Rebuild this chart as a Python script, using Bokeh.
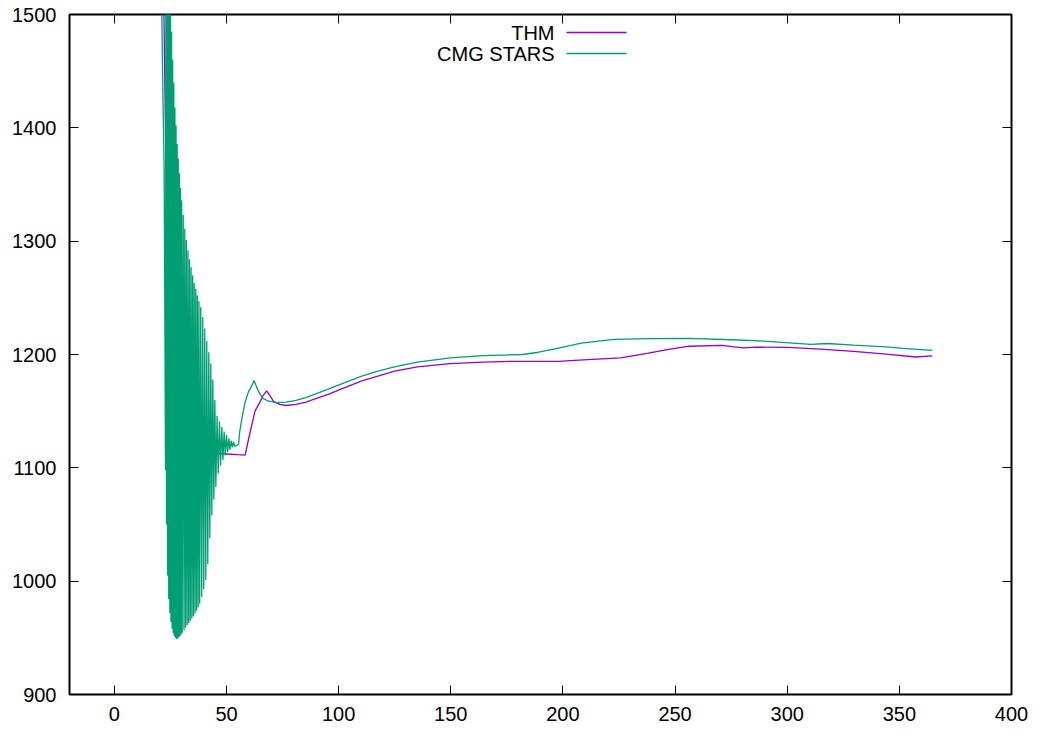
from bokeh.plotting import figure
from bokeh.models import LinearAxis, FixedTicker, Label, Arrow, Range1d
from bokeh.embed import file_html
from bokeh.resources import INLINE

# ---- axis ticks ----
x_ticks = [0, 50, 100, 150, 200, 250, 300, 350, 400]
y_ticks = [900, 1000, 1100, 1200, 1300, 1400, 1500]

# ---- THM series ----
thm_x = [21.5, 22.1, 22.7, 23.4, 24.3, 25.5, 27.0, 28.5, 30.0, 32.0, 34.0, 36.4,
         40.0, 45.0, 50.0, 55.0, 58.3, 59.8, 61.3, 62.7, 64.9, 66.4, 67.9, 69.3,
         71.0, 73.7, 76.6, 81.0, 85.4, 89.8, 95.6, 103.0, 110.3, 117.5, 124.9,
         135.1, 149.7, 164.3, 178.9, 198.0, 211.0, 225.7, 237.5, 247.7, 256.4,
         271.0, 275.4, 280.6, 285.7, 300.3, 314.9, 329.6, 344.2, 357.4, 364.7]
thm_y = [1570, 1500, 1410, 1330, 1260, 1205, 1168, 1145, 1131, 1121, 1116, 1114.4,
         1113.5, 1112.8, 1112.2, 1111.6, 1111.3, 1125, 1138, 1150, 1158, 1164, 1168, 1164,
         1158.7, 1156, 1155, 1156, 1158, 1161, 1165, 1171, 1176.8, 1181, 1185.4,
         1189, 1192, 1193.3, 1194, 1194, 1195.5, 1197, 1201, 1204.7, 1207.3,
         1208, 1207, 1205.9, 1206.5, 1206.2, 1204.7, 1202.7, 1200.4, 1197.8, 1198.7]

# ---- CMG STARS series ----
stars_start_x = [20.9, 21.5, 22.2, 22.5, 22.8]
stars_start_y = [1540, 1450, 1364, 1240, 1098]

stars_peak_x = [23.0, 23.5, 24.0, 24.5, 25.0, 25.5, 26.0, 26.5, 27.0, 27.5,
                28.0, 28.5, 29.0, 29.5, 30.0,
                30.7, 31.4, 32.1, 32.8, 33.5, 34.2, 34.9, 35.6, 36.3, 37.0, 37.7,
                38.5, 39.4, 40.3, 41.2, 42.1, 43.0, 43.9, 44.8,
                45.8, 46.85, 47.9, 48.95, 50.0, 51.05, 52.1, 53.15]
stars_peak_y = [1600, 1590, 1575, 1555, 1520, 1485, 1460, 1440, 1418, 1402,
                1386, 1373, 1360, 1347, 1336,
                1323, 1311, 1301, 1292, 1284, 1277, 1270, 1263, 1258, 1252, 1247,
                1242, 1233, 1223, 1212, 1202, 1192, 1178, 1160,
                1146, 1141, 1136, 1132, 1129, 1126, 1124, 1123]
stars_trough_x = [23.25, 23.75, 24.25, 24.75, 25.25, 25.75, 26.25, 26.75, 27.25, 27.75,
                  28.25, 28.75, 29.25, 29.75, 30.25,
                  31.05, 31.75, 32.45, 33.15, 33.85, 34.55, 35.25, 35.95, 36.65, 37.35, 38.05,
                  38.95, 39.85, 40.75, 41.65, 42.55, 43.45, 44.35, 45.25,
                  46.3, 47.35, 48.4, 49.45, 50.5, 51.55, 52.6, 53.65]
stars_trough_y = [1050, 1005, 984, 972, 964, 958, 954, 951.5, 950, 949,
                  949.5, 950.5, 951.5, 953, 954.5,
                  957, 959, 961, 963, 965, 967, 969, 971.5, 974, 977, 980,
                  986, 993, 1001, 1015, 1038, 1058, 1072, 1083,
                  1095, 1102, 1107, 1111, 1114, 1116, 1118, 1119]

stars_tail_x = [54.2, 54.7, 55.4, 55.9, 56.9, 58.3, 59.8, 61.3, 62.3, 63.5, 64.9, 66.4,
                68.6, 72.2, 76.6, 81.0, 85.4, 89.8, 95.6, 103.0, 110.3, 117.5, 124.9,
                135.1, 149.7, 164.3, 181.9, 189.2, 198.0, 208.2, 222.8, 237.5, 256.4,
                278.4, 293.0, 310.5, 317.9, 329.6, 344.2, 351.5, 364.7]
stars_tail_y = [1119.5, 1120, 1121, 1132, 1144, 1158, 1167, 1172.5, 1177, 1171, 1165, 1161,
                1159, 1157.5, 1158, 1159.6, 1162, 1165.3, 1169.6, 1175.4, 1181, 1185.4, 1189,
                1193.3, 1197, 1199, 1200, 1202, 1205.6, 1210, 1213.4, 1214, 1214.2,
                1212.8, 1211.4, 1209, 1209.7, 1208.2, 1206.7, 1205.4, 1203.6]

series_names = ["THM", "CMG STARS"]
series_colors = ["#9400D3", "#009E73"]

# assemble the STARS series: start, then alternating peak / trough, then tail
stars_x = list(stars_start_x)
stars_y = list(stars_start_y)
for px_, py_, tx_, ty_ in zip(stars_peak_x, stars_peak_y, stars_trough_x, stars_trough_y):
    stars_x += [px_, tx_]
    stars_y += [py_, ty_]
stars_x += stars_tail_x
stars_y += stars_tail_y

FONT = "Liberation Sans"
FS = "20px"

p = figure(width=1038, height=731, output_backend="svg", toolbar_location=None,
           x_range=Range1d(-20, 400), y_range=Range1d(900, 1500),
           min_border_left=69, min_border_right=27, min_border_top=14, min_border_bottom=37,
           background_fill_color="white", border_fill_color="white")
p.outline_line_color = "black"
p.outline_line_width = 2
p.xgrid.visible = False
p.ygrid.visible = False

p.line(thm_x, thm_y, line_color=series_colors[0], line_width=1.3)
p.line(stars_x, stars_y, line_color=series_colors[1], line_width=1.3)

def style_axis(ax, labels=True, standoff=10):
    ax.axis_line_color = None
    ax.major_tick_in = 9
    ax.major_tick_out = 0
    ax.minor_tick_line_color = None
    ax.major_tick_line_color = "black"
    ax.major_tick_line_width = 1
    ax.major_label_text_font = FONT
    ax.major_label_standoff = standoff
    if labels:
        ax.major_label_text_font_size = FS
        ax.major_label_text_color = "black"
    else:
        ax.major_label_text_font_size = "1px"
        ax.major_label_text_color = None
        ax.major_label_standoff = 0

p.xaxis.ticker = FixedTicker(ticks=x_ticks)
p.yaxis.ticker = FixedTicker(ticks=y_ticks)
style_axis(p.xaxis[0], True, 12)
style_axis(p.yaxis[0], True, 13)

top_ax = LinearAxis(ticker=FixedTicker(ticks=x_ticks))
right_ax = LinearAxis(ticker=FixedTicker(ticks=y_ticks))
style_axis(top_ax, False)
style_axis(right_ax, False)
p.add_layout(top_ax, "above")
p.add_layout(right_ax, "right")

# legend (gnuplot style: label, then line sample), screen units relative to the frame
legend_rows_y = [662, 641]
for name, col, yy in zip(series_names, series_colors, legend_rows_y):
    p.add_layout(Label(x=485, y=yy, x_units="screen", y_units="screen", text=name,
                       text_align="right", text_baseline="middle",
                       text_font=FONT, text_font_size=FS, text_color="black"))
    p.add_layout(Arrow(end=None, x_start=497, y_start=yy, x_end=557, y_end=yy,
                       start_units="screen", end_units="screen",
                       line_color=col, line_width=1.3))

open("out.html", "w").write(file_html(p, INLINE))
